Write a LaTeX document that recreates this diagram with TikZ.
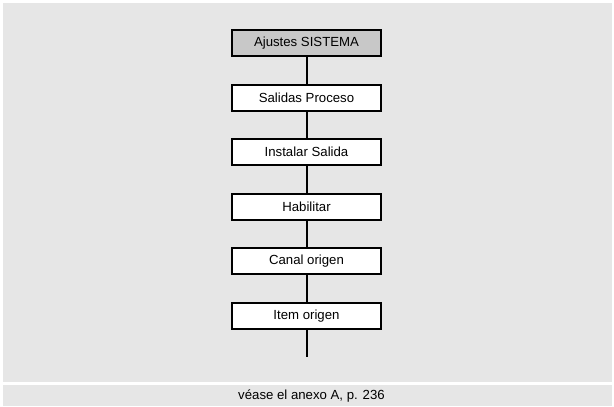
\documentclass[tikz,border=0pt]{standalone}
\usepackage{fontspec}
\setmainfont{Liberation Sans}
\usetikzlibrary{positioning}
\definecolor{panelgray}{gray}{0.902}
\definecolor{headgray}{gray}{0.784}

\begin{document}
\begin{tikzpicture}[
  x=1pt, y=-1pt,
  font=\fontsize{13.2}{16}\selectfont,
  node distance=26.5pt,
  box/.style={draw=black, line width=2pt, fill=white, align=center, inner sep=0pt, minimum width=149pt, minimum height=26pt},
  link/.style={line width=2pt}
]
\useasboundingbox (0,0) rectangle (614,407);
\fill[panelgray] (3,3) rectangle (612,382);
\fill[panelgray] (3,385) rectangle (612,406);
\node (nota) at (311.5,396) {véase el anexo A, p. 236};
\node[box, fill=headgray] (sistema) at (306.5,43.25) {Ajustes SISTEMA};
\node[box, below=of sistema] (salidas) {Salidas Proceso};
\node[box, below=of salidas] (instalar) {Instalar Salida};
\node[box, below=of instalar] (habilitar) {Habilitar};
\node[box, below=of habilitar] (canal) {Canal origen};
\node[box, below=of canal] (item) {Item origen};
\coordinate[below=27pt of item] (tail);
\foreach \a/\b in {sistema/salidas,salidas/instalar,instalar/habilitar,habilitar/canal,canal/item} \draw[link] (\a) -- (\b);
\draw[link] (item) -- (tail);
\end{tikzpicture}
\end{document}
